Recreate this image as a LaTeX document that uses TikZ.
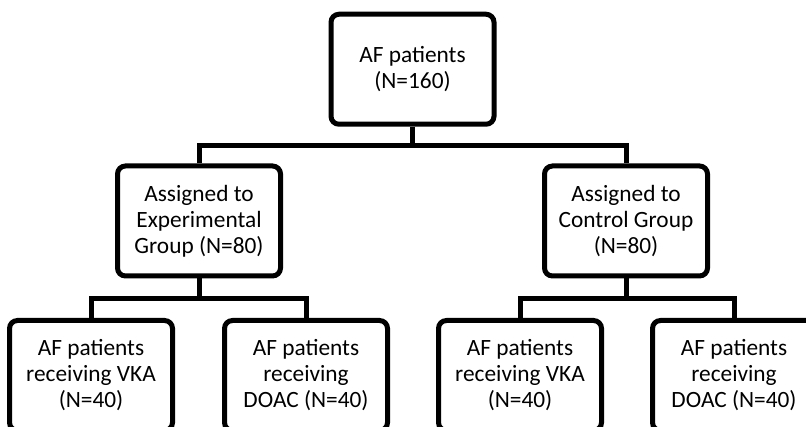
\documentclass[tikz,border=0pt]{standalone}
\usepackage{fontspec}
\setmainfont{Carlito}
\usepackage{tikz}

\begin{document}
\begin{tikzpicture}[x=0.75pt, y=-0.75pt,
  box/.style={draw, rectangle, rounded corners=6pt, line width=3.75pt, minimum width=122.25pt, minimum height=82.5pt, align=center, font=\fontsize{17.5}{19.5}\selectfont},
  link/.style={line width=3.75pt}]
\useasboundingbox (0,0) rectangle (806,427);
\clip (0,0) rectangle (806,427);
\node (all) [box] at (412.5,69.25) {AF patients\\(N=160)};
\node (exp) [box] at (199,221) {Assigned to\\Experimental\\Group (N=80)};
\node (ctrl) [box] at (626,221) {Assigned to\\Control Group\\(N=80)};
\node (expvka) [box] at (91,375.5) {AF patients\\receiving VKA\\(N=40)};
\node (expdoac) [box] at (306,375.5) {AF patients\\receiving\\DOAC (N=40)};
\node (ctrlvka) [box] at (520,375.5) {AF patients\\receiving VKA\\(N=40)};
\node (ctrldoac) [box] at (734,375.5) {AF patients\\receiving\\DOAC (N=40)};
\coordinate (split) at (412.5,145.5);
\coordinate (splitexp) at (199,298.5);
\coordinate (splitctrl) at (626,298.5);
\draw[link] (all.south) -- (split);
\draw[link] (exp.north) |- (split) -| (ctrl.north);
\draw[link] (exp.south) -- (splitexp);
\draw[link] (expvka.north) |- (splitexp) -| (expdoac.north);
\draw[link] (ctrl.south) -- (splitctrl);
\draw[link] (ctrlvka.north) |- (splitctrl) -| (ctrldoac.north);
\end{tikzpicture}
\end{document}
